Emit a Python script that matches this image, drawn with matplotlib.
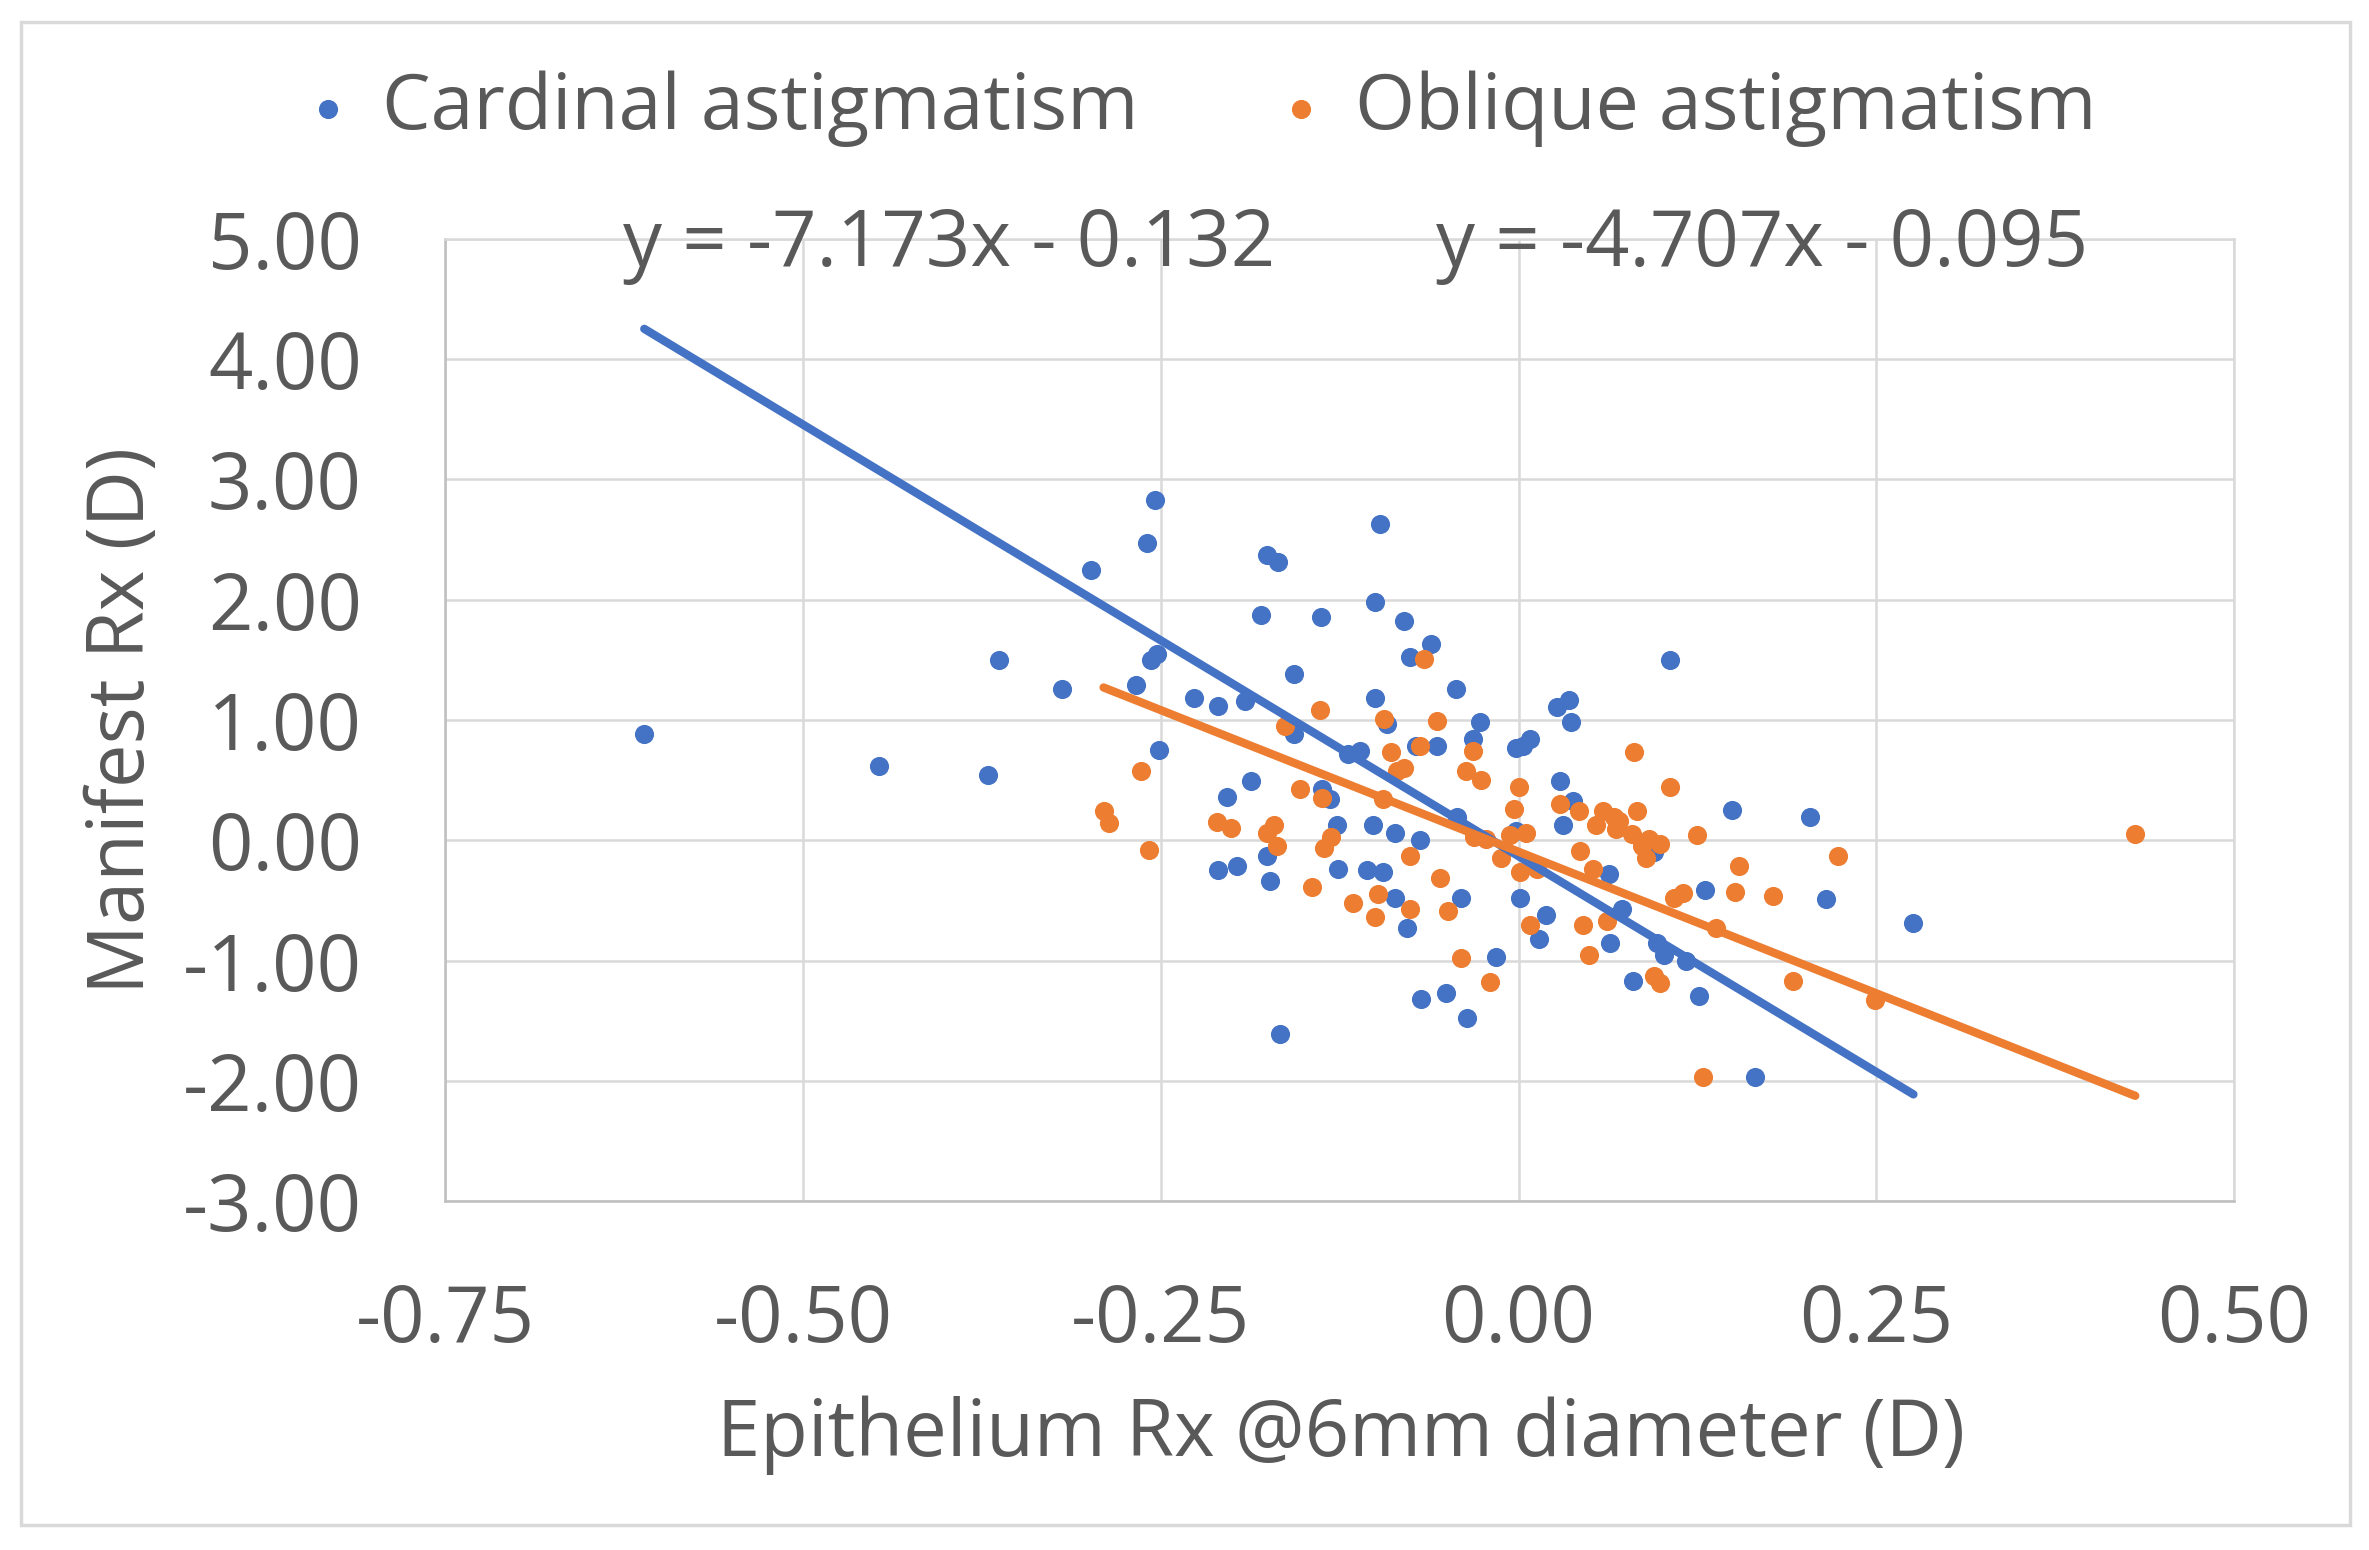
import matplotlib.pyplot as plt
from matplotlib.patches import Rectangle

plt.rcParams['font.family'] = ['Open Sans', 'DejaVu Sans']

# Cardinal astigmatism (blue)
card_x = [-0.611, -0.447, -0.371, -0.363, -0.319, -0.299, -0.267, -0.260, -0.254, -0.257,
          -0.253, -0.251, -0.227, -0.210, -0.210, -0.204, -0.197, -0.191, -0.187, -0.180,
          -0.176, -0.168, -0.174, -0.176, -0.167, -0.157, -0.157, -0.138, -0.137, -0.132,
          -0.127, -0.126, -0.119, -0.111, -0.106, -0.102, -0.100, -0.097, -0.100, -0.095,
          -0.092, -0.086, -0.086, -0.080, -0.078, -0.076, -0.072, -0.069, -0.068, -0.061,
          -0.057, -0.051, -0.044, -0.043, -0.040, -0.036, -0.032, -0.027, -0.016, -0.002,
          0.003, 0.008, -0.002, 0.001, 0.014, 0.019, 0.027, 0.035, 0.037, 0.029,
          0.031, 0.038, 0.063, 0.064, 0.072, 0.080, 0.095, 0.097, 0.102, 0.106,
          0.117, 0.126, 0.130, 0.149, 0.165, 0.204, 0.215, 0.276]
card_y = [0.88, 0.62, 0.54, 1.50, 1.26, 2.25, 1.29, 2.47, 2.83, 1.50,
          1.55, 0.75, 1.18, 1.12, -0.25, 0.36, -0.21, 1.16, 0.49, 1.87,
          2.37, 2.31, -0.34, -0.13, -1.61, 1.38, 0.88, 1.86, 0.43, 0.34,
          0.13, -0.24, 0.72, 0.74, -0.25, 0.13, 1.98, 2.63, 1.18, -0.26,
          0.97, 0.06, -0.48, 1.82, -0.73, 1.52, 0.78, 0.00, -1.32, 1.63,
          0.78, -1.27, 1.26, 0.19, -0.48, -1.48, 0.84, 0.98, -0.97, 0.77,
          0.78, 0.84, 0.08, -0.48, -0.82, -0.62, 1.11, 1.17, 0.98, 0.49,
          0.13, 0.33, -0.28, -0.85, -0.57, -1.17, -0.10, -0.85, -0.95, 1.50,
          -1.00, -1.29, -0.41, 0.25, -1.97, 0.19, -0.49, -0.69]

# Oblique astigmatism (orange)
obl_x = [-0.290, -0.286, -0.264, -0.258, -0.211, -0.201, -0.176, -0.171, -0.169, -0.163,
         -0.153, -0.144, -0.139, -0.137, -0.136, -0.131, -0.116, -0.100, -0.098, -0.095,
         -0.094, -0.089, -0.085, -0.080, -0.076, -0.076, -0.069, -0.066, -0.057, -0.055,
         -0.049, -0.040, -0.037, -0.032, -0.031, -0.026, -0.023, -0.020, -0.012, -0.006,
         -0.003, 0.000, 0.001, 0.005, 0.008, 0.013, 0.029, 0.042, 0.043, 0.045,
         0.049, 0.052, 0.054, 0.059, 0.062, 0.067, 0.068, 0.070, 0.079, 0.081,
         0.083, 0.086, 0.089, 0.091, 0.095, 0.099, 0.099, 0.106, 0.109, 0.115,
         0.125, 0.129, 0.138, 0.151, 0.154, 0.178, 0.192, 0.223, 0.249, 0.431]
obl_y = [0.24, 0.14, 0.58, -0.08, 0.15, 0.10, 0.06, 0.13, -0.05, 0.95,
         0.43, -0.39, 1.08, 0.35, -0.06, 0.03, -0.52, -0.64, -0.45, 0.34,
         1.01, 0.73, 0.58, 0.60, -0.13, -0.57, 0.78, 1.51, 0.99, -0.31,
         -0.59, -0.98, 0.58, 0.74, 0.03, 0.50, 0.01, -1.18, -0.15, 0.04,
         0.26, 0.44, -0.26, 0.06, -0.70, -0.24, 0.30, 0.24, -0.09, -0.70,
         -0.95, -0.24, 0.13, 0.24, -0.67, 0.19, 0.09, 0.16, 0.05, 0.73,
         0.24, -0.05, -0.15, 0.01, -1.13, -1.19, -0.03, 0.44, -0.48, -0.44,
         0.04, -1.97, -0.73, -0.43, -0.21, -0.46, -1.17, -0.13, -1.33, 0.05]

# trendline coefficients (as printed on the chart)
card_fit = (-7.173, -0.132)
obl_fit = (-4.707, -0.095)

xticks = [-0.75, -0.50, -0.25, 0.00, 0.25, 0.50]
yticks = [5, 4, 3, 2, 1, 0, -1, -2, -3]

blue = '#4472C4'
orange = '#ED7D31'
txt = '#595959'
fs = 56

fig = plt.figure(figsize=(23.69, 15.5), dpi=100)
fig.patches.append(Rectangle((0.009, 0.016), 0.983, 0.970, transform=fig.transFigure,
                             fill=False, edgecolor='#D9D9D9', linewidth=2.5))
ax = fig.add_axes([0.188, 0.225, 0.755, 0.621])

ax.scatter(card_x, card_y, s=190, c=blue, linewidths=0, zorder=3, label='Cardinal astigmatism')
ax.scatter(obl_x, obl_y, s=190, c=orange, linewidths=0, zorder=3, label='Oblique astigmatism')

for xs, fit, col in [(card_x, card_fit, blue), (obl_x, obl_fit, orange)]:
    x0, x1 = min(xs), max(xs)
    ax.plot([x0, x1], [fit[0] * x0 + fit[1], fit[0] * x1 + fit[1]], c=col, lw=6, zorder=4,
            solid_capstyle='round')

ax.text(-0.398, 4.94, 'y = -7.173x - 0.132', ha='center', va='center', fontsize=fs, color=txt, zorder=5)
ax.text(0.170, 4.94, 'y = -4.707x - 0.095', ha='center', va='center', fontsize=fs, color=txt, zorder=5)

ax.set_xlim(-0.75, 0.50)
ax.set_ylim(-3, 5)
ax.set_xticks(xticks)
ax.set_xticklabels(['%.2f' % v for v in xticks])
ax.set_yticks(yticks)
ax.set_yticklabels(['%.2f' % v for v in yticks])
ax.tick_params(length=0, labelsize=fs, labelcolor=txt)
ax.tick_params(axis='x', pad=58)
ax.tick_params(axis='y', pad=60)
ax.grid(True, color='#D9D9D9', linewidth=1.8, zorder=0)
ax.set_axisbelow(True)
for s in ['top', 'right']:
    ax.spines[s].set_color('#D9D9D9')
    ax.spines[s].set_linewidth(1.8)
for s in ['left', 'bottom']:
    ax.spines[s].set_color('#BFBFBF')
    ax.spines[s].set_linewidth(1.8)

fig.text(0.052, 0.535, 'Manifest Rx (D)', rotation=90, ha='center', va='center', fontsize=fs, color=txt)
fig.text(0.566, 0.074, 'Epithelium Rx @6mm diameter (D)', ha='center', va='center', fontsize=fs, color=txt)

fig.legend(loc='center', bbox_to_anchor=(0.502, 0.930), ncol=2, frameon=False, fontsize=55.5,
           labelcolor=txt, markerscale=1.0, handletextpad=0.1, columnspacing=1.5, handlelength=1.2)

fig.savefig('out.png', dpi=100)
